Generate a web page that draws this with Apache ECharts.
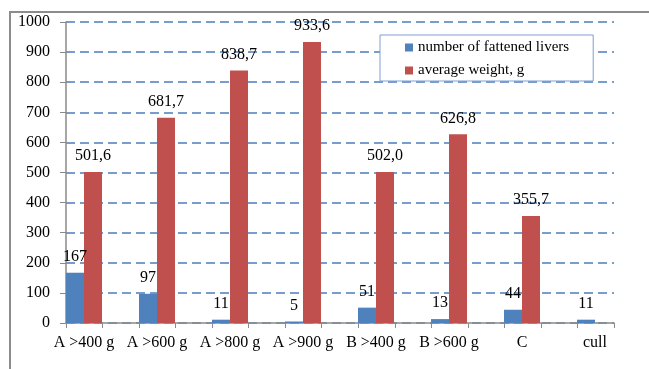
<!DOCTYPE html>
<html><head><meta charset="utf-8">
<script src="https://cdn.jsdelivr.net/npm/echarts@6/dist/echarts.min.js"></script>
<style>html,body{margin:0;padding:0;background:#fff}#c{width:649px;height:369px}</style>
</head><body><div id="c"></div>
<script>
const categories = ['A >400 g', 'A >600 g', 'A >800 g', 'A >900 g', 'B >400 g', 'B >600 g', 'C', 'cull'];
const liverCount = [167, 97, 11, 5, 51, 13, 44, 11];
const avgWeight = [501.6, 681.7, 838.7, 933.6, 502.0, 626.8, 355.7, null];
const yTicks = [0, 100, 200, 300, 400, 500, 600, 700, 800, 900, 1000];
const seriesNames = ['number of fattened livers', 'average weight, g'];

const FONT = '"Liberation Serif", "Times New Roman", serif';
const GRAY = '#8a8a8a';
const chart = echarts.init(document.getElementById('c'));
const tickSlots = new Array(15).fill('');
chart.setOption({
  animation: false,
  backgroundColor: '#fff',
  textStyle: { fontFamily: FONT },
  graphic: [{ type: 'rect', shape: { x: 10, y: 12, width: 800, height: 500 }, style: { fill: 'none', stroke: '#8c8c8c', lineWidth: 2 }, z: 0 }],
  legend: {
    orient: 'vertical', left: 380, top: 35,
    padding: [5, 24, 3, 25], itemGap: 8,
    itemWidth: 8, itemHeight: 8, icon: 'rect',
    backgroundColor: '#fff', borderColor: '#7f9fcf', borderWidth: 1,
    textStyle: { fontFamily: FONT, fontSize: 15, color: '#000' },
    data: seriesNames
  },
  grid: [
    { left: 47.5, width: 584, top: 22, height: 301 },
    { left: 66, width: 548, top: 22, height: 301 }
  ],
  xAxis: [
    { type: 'category', gridIndex: 0, data: categories, boundaryGap: true,
      axisLine: { show: false }, axisTick: { show: false },
      axisLabel: { interval: 0, margin: 12, fontFamily: FONT, fontSize: 16, color: '#000' } },
    { type: 'category', gridIndex: 1, data: tickSlots, boundaryGap: true,
      axisLine: { lineStyle: { color: GRAY, width: 1.5 } },
      axisTick: { show: true, interval: 0, length: 5, lineStyle: { color: GRAY } },
      axisLabel: { show: false } }
  ],
  yAxis: [
    { type: 'value', gridIndex: 0, min: 0, max: 1000, interval: 100, show: false, splitLine: { show: false } },
    { type: 'value', gridIndex: 1, min: yTicks[0], max: yTicks[yTicks.length - 1], interval: yTicks[1] - yTicks[0],
      axisLine: { show: true, lineStyle: { color: GRAY, width: 1.5 } },
      axisTick: { show: true, length: 6, lineStyle: { color: GRAY } },
      axisLabel: { margin: 16, fontFamily: FONT, fontSize: 16, color: '#000', formatter: v => String(v) },
      splitLine: { show: true, lineStyle: { color: '#4a7ebb', width: 1.5, type: [9, 5] } } }
  ],
  series: [
    { name: seriesNames[0], type: 'bar', xAxisIndex: 0, yAxisIndex: 0, data: liverCount,
      barWidth: 18, barGap: '0%', itemStyle: { color: '#4f81bd' },
      label: { show: true, position: 'top', distance: 8, fontFamily: FONT, fontSize: 16, color: '#000' } },
    { name: seriesNames[1], type: 'bar', xAxisIndex: 0, yAxisIndex: 0, data: avgWeight,
      barWidth: 18, itemStyle: { color: '#c0504d' },
      label: { show: true, position: 'top', distance: 8, fontFamily: FONT, fontSize: 16, color: '#000',
        formatter: p => p.value == null ? '' : p.value.toFixed(1).replace('.', ',') } }
  ]
});
</script></body></html>
